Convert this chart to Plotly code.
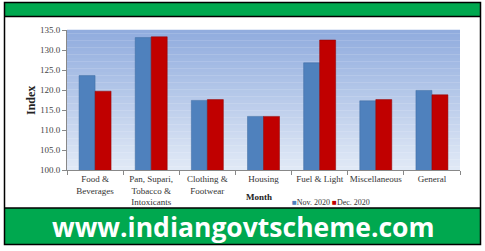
import plotly.graph_objects as go

categories = ["Food &<br>Beverages", "Pan, Supari,<br>Tobacco &<br>Intoxicants", "Clothing &<br>Footwear",
              "Housing", "Fuel & Light", "Miscellaneous", "General"]
nov_2020 = [123.6, 133.1, 117.4, 113.4, 126.8, 117.3, 119.9]
dec_2020 = [119.7, 133.3, 117.6, 113.4, 132.5, 117.6, 118.8]
series_names = ["Nov. 2020", "Dec. 2020"]
y_ticks = [100, 105, 110, 115, 120, 125, 130, 135]

W, H = 485, 251
BLUE = "#4f81bd"
RED = "#c00000"
GREEN = "#00a84f"
SERIF = "Liberation Serif, Times New Roman, serif"

def px(x):
    return x / W

def py(y):
    return 1 - y / H

fig = go.Figure()
fig.add_trace(go.Bar(x=categories, y=nov_2020, name=series_names[0],
                     marker=dict(color=BLUE, line=dict(color="#3d6aa0", width=0.5))))
fig.add_trace(go.Bar(x=categories, y=dec_2020, name=series_names[1],
                     marker=dict(color=RED, line=dict(color="#8f0000", width=0.5))))

shapes = []
# gradient background of plot area
n = 40
top = (145, 172, 222)
bot = (224, 233, 246)
for i in range(n):
    t = i / (n - 1)
    c = tuple(int(round(top[k] + (bot[k] - top[k]) * t)) for k in range(3))
    shapes.append(dict(type="rect", xref="x domain", yref="y domain",
                       x0=0, x1=1, y0=1 - (i + 1) / n, y1=1 - i / n + 0.001,
                       fillcolor="rgb(%d,%d,%d)" % c, line=dict(width=0), layer="below"))
# top green bar
shapes.append(dict(type="rect", xref="paper", yref="paper", x0=px(4.5), x1=px(480.5),
                   y0=py(16), y1=py(2.5), fillcolor=GREEN, line=dict(width=0)))
shapes.append(dict(type="line", xref="paper", yref="paper", x0=px(4.5), x1=px(480.5),
                   y0=py(16.5), y1=py(16.5), line=dict(color="black", width=1.5)))
# bottom green band
shapes.append(dict(type="rect", xref="paper", yref="paper", x0=px(4.5), x1=px(480.5),
                   y0=py(244.5), y1=py(208), fillcolor=GREEN, line=dict(width=0)))
shapes.append(dict(type="line", xref="paper", yref="paper", x0=px(4.5), x1=px(480.5),
                   y0=py(208), y1=py(208), line=dict(color="black", width=1.5)))
# outer border
shapes.append(dict(type="rect", xref="paper", yref="paper", x0=px(4.5), x1=px(480.5),
                   y0=py(244.5), y1=py(2.5), line=dict(color="black", width=1.5)))

annotations = [
    dict(text="<b>www.indiangovtscheme.com</b>", x=px(243), y=py(227), xref="paper", yref="paper",
         showarrow=False, font=dict(family="Open Sans, sans-serif", size=26.5, color="white"),
         xanchor="center", yanchor="middle"),
    dict(text="<b>Index</b>", x=px(31), y=py(100), xref="paper", yref="paper", textangle=-90,
         showarrow=False, font=dict(family=SERIF, size=12, color="#222"),
         xanchor="center", yanchor="middle"),
    dict(text="<b>Month</b>", x=px(259), y=py(197), xref="paper", yref="paper",
         showarrow=False, font=dict(family=SERIF, size=9, color="#222"),
         xanchor="center", yanchor="middle"),
    dict(text="<span style='color:%s'>■</span>%s <span style='color:%s'>■</span>%s"
              % (BLUE, series_names[0], RED, series_names[1]),
         x=px(290), y=py(202), xref="paper", yref="paper", showarrow=False,
         font=dict(family=SERIF, size=8, color="#333"), xanchor="left", yanchor="middle"),
]

fig.update_layout(
    width=W, height=H,
    margin=dict(l=0, r=0, t=0, b=0),
    paper_bgcolor="white", plot_bgcolor="rgba(0,0,0,0)",
    barmode="group", bargap=0.43, bargroupgap=0,
    showlegend=False,
    shapes=shapes, annotations=annotations,
    xaxis=dict(domain=[px(67), px(460)], tickson="boundaries", ticks="outside", ticklen=4,
               tickcolor="#888", showline=True, linecolor="#888", linewidth=1, tickangle=0,
               tickfont=dict(family=SERIF, size=9, color="#333"), automargin=False,
               showgrid=False),
    yaxis=dict(domain=[py(170), py(30)], range=[100, 135], tickvals=y_ticks, tickformat=".1f",
               ticks="outside", ticklen=4, tickcolor="#888", showline=True, linecolor="#888",
               linewidth=1, showgrid=False, zeroline=False, automargin=False,
               tickfont=dict(family=SERIF, size=9, color="#444")),
)

fig.write_html("out.html")
